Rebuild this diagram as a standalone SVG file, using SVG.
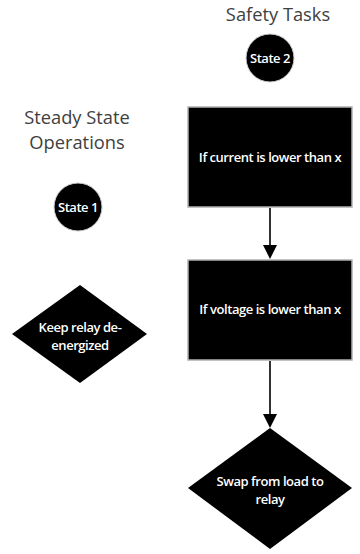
<svg xmlns="http://www.w3.org/2000/svg" width="360" height="554" viewBox="0 0 360 554">
<style>
.title{font-family:"Open Sans","DejaVu Sans",sans-serif;font-size:18.3px;fill:#404040;text-anchor:middle}
.lbl{font-family:"Open Sans","DejaVu Sans",sans-serif;font-size:13px;font-weight:600;fill:#fff;text-anchor:middle;letter-spacing:-0.45px}
.shape{fill:#000;stroke:#b0b0b0;stroke-width:1.5}
.circ{fill:#000;stroke:#d0d0d0;stroke-width:1}
.conn{stroke:#333;stroke-width:2;fill:none}
</style>
<rect width="360" height="554" fill="#fff"/>
<text class="title" x="278" y="21">Safety Tasks</text>
<text class="title" x="77" y="124">Steady State</text>
<text class="title" x="77" y="149">Operations</text>
<g id="connectors">
<line class="conn" x1="270" y1="208" x2="270" y2="246"/>
<path d="M263,245 L277,245 L270,259 z" fill="#000"/>
<line class="conn" x1="270" y1="361" x2="270" y2="415"/>
<path d="M263,414 L277,414 L270,428 z" fill="#000"/>
</g>
<g id="state2">
<circle class="circ" cx="270" cy="58" r="24"/>
<text class="lbl" x="270" y="63">State 2</text>
</g>
<g id="state1">
<circle class="circ" cx="78" cy="207" r="24"/>
<text class="lbl" x="78" y="212">State 1</text>
</g>
<g id="current">
<rect class="shape" x="188" y="107" width="164" height="100"/>
<text class="lbl" x="270" y="162">If current is lower than x</text>
</g>
<g id="voltage">
<rect class="shape" x="188" y="260" width="164" height="100"/>
<text class="lbl" x="270" y="314">If voltage is lower than x</text>
</g>
<g id="keep">
<polygon class="shape" points="80,285 147,334 80,383 12,334" style="stroke:none"/>
<text class="lbl" x="80" y="332">Keep relay de-</text>
<text class="lbl" x="80" y="350">energized</text>
</g>
<g id="swap">
<polygon class="shape" points="270,428 352,488 270,549 188,488" style="stroke:none"/>
<text class="lbl" x="270" y="486">Swap from load to</text>
<text class="lbl" x="270" y="504">relay</text>
</g>
</svg>
